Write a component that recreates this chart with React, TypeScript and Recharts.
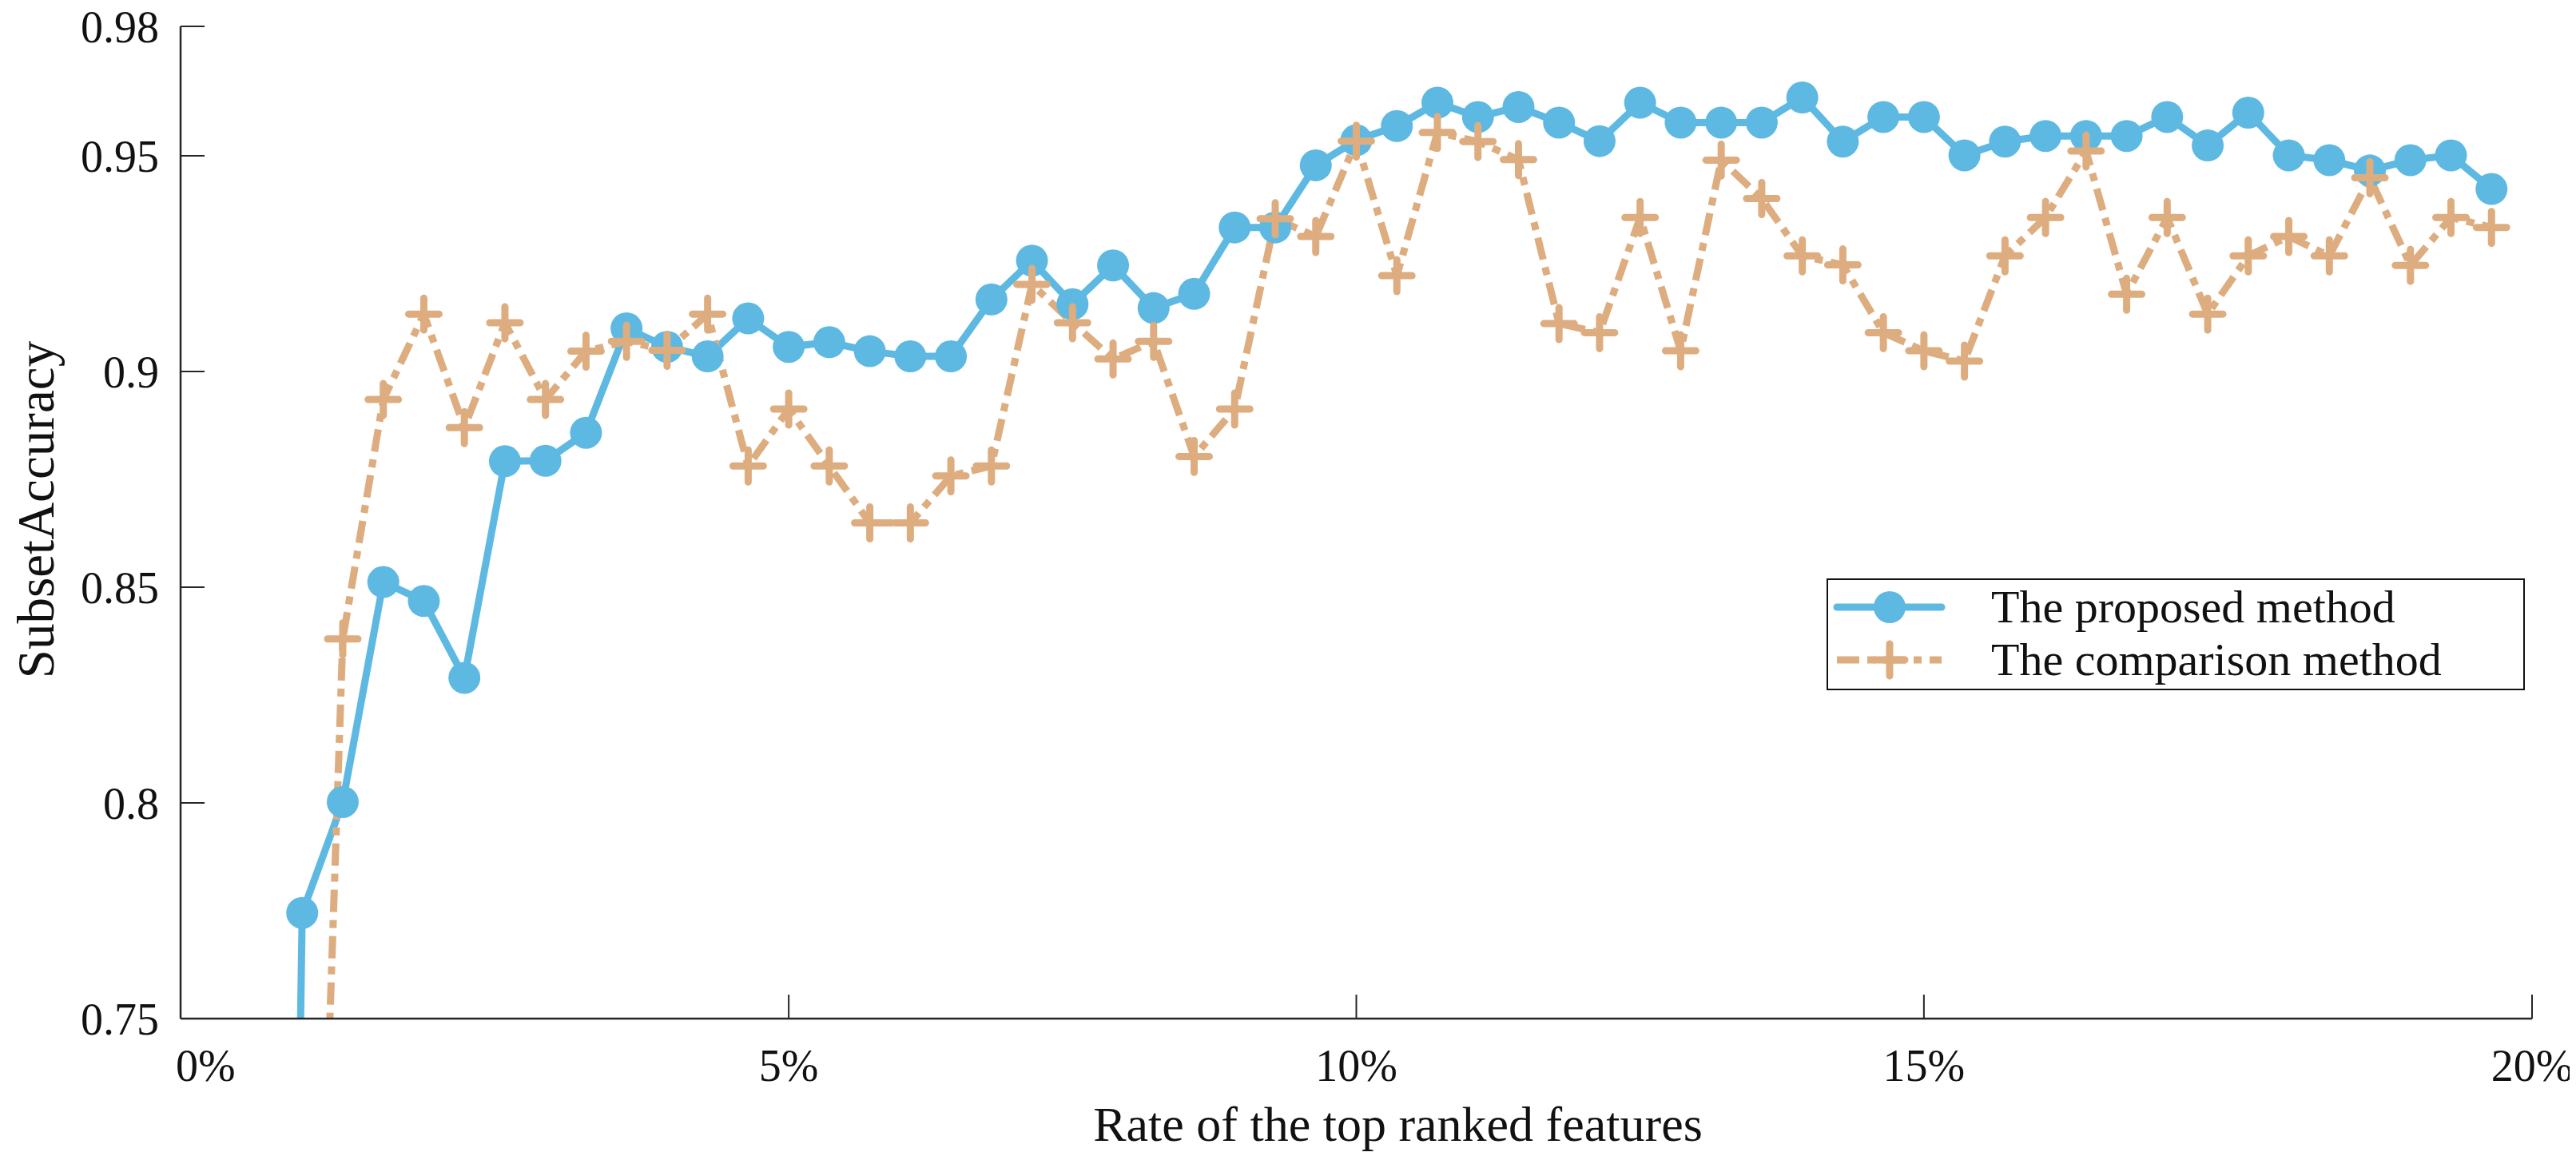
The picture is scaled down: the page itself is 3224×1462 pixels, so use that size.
import React from "react";
import { LineChart, Line, XAxis, YAxis, Legend, Label } from "recharts";

// x is the index of the feature subset; the ticks are labelled as rates
const featureIndex = [
  2, 3, 4, 5, 6, 7, 8, 9, 10, 11, 12, 13, 14, 15, 16, 17, 18, 19, 20, 21, 22, 23, 24, 25, 26, 27, 28, 29,
  30, 31, 32, 33, 34, 35, 36, 37, 38, 39, 40, 41, 42, 43, 44, 45, 46, 47, 48, 49, 50, 51, 52, 53, 54, 55, 56, 57,
];

const proposedAcc = [
  0.15, 0.7745, 0.8002, 0.8512, 0.8468, 0.829, 0.8792, 0.8793, 0.8858, 0.91, 0.9057, 0.9035, 0.9123, 0.9057,
  0.9068, 0.9047, 0.9035, 0.9035, 0.9167, 0.9257, 0.9156, 0.9246, 0.9147, 0.918, 0.9334, 0.9334, 0.9478, 0.9536,
  0.9569, 0.9623, 0.959, 0.9613, 0.9577, 0.9534, 0.9623, 0.9577, 0.9577, 0.9577, 0.9635, 0.9533, 0.959, 0.959,
  0.9501, 0.9533, 0.9546, 0.9546, 0.9546, 0.959, 0.9524, 0.96, 0.9501, 0.949, 0.9466, 0.949, 0.9501, 0.9423,
];

const comparisonAcc = [
  null, 0.56, 0.838, 0.8935, 0.9133, 0.887, 0.9113, 0.8935, 0.9047, 0.907, 0.9049, 0.9133, 0.8781, 0.8913,
  0.8781, 0.8649, 0.8649, 0.8758, 0.8781, 0.9202, 0.9113, 0.9029, 0.907, 0.8803, 0.8913, 0.9354, 0.9313, 0.9534,
  0.9222, 0.9554, 0.9533, 0.9491, 0.9111, 0.909, 0.9357, 0.9048, 0.949, 0.9401, 0.9268, 0.9247, 0.909, 0.9048,
  0.9024, 0.9268, 0.9357, 0.9511, 0.9179, 0.9357, 0.9133, 0.9268, 0.9313, 0.9268, 0.9449, 0.9246, 0.9357, 0.9334,
];

const xTickPositions = [0, 15, 29, 43, 58];
const xTickLabels = ["0%", "5%", "10%", "15%", "20%"];
const yTicks = [0.75, 0.8, 0.85, 0.9, 0.95, 0.98];
const seriesNames = ["The proposed method", "The comparison method"];

const BLUE = "#5db9e2";
const ORANGE = "#ddad80";
const AXIS = "#262626";
const TEXT = "#111111";
const FONT = "'Liberation Serif', 'DejaVu Serif', serif";
const DASH = "28 10 10 10";
const Y_MIN = 0.75;

const data = featureIndex.map((idx, i) => ({
  idx,
  proposed: proposedAcc[i],
  comparison: comparisonAcc[i],
}));

const CircleDot = (props: any) => {
  const { cx, cy, value } = props;
  if (value == null || value < Y_MIN || cx == null || cy == null) return <g />;
  return <circle cx={cx} cy={cy} r={20} fill={BLUE} />;
};

const PlusDot = (props: any) => {
  const { cx, cy, value } = props;
  if (value == null || value < Y_MIN || cx == null || cy == null) return <g />;
  return (
    <path
      d={`M${cx - 19},${cy}H${cx + 19}M${cx},${cy - 20}V${cy + 20}`}
      stroke={ORANGE}
      strokeWidth={9}
      strokeLinecap="round"
      fill="none"
    />
  );
};

const XTick = (props: any) => {
  const { x, y, payload } = props;
  const i = xTickPositions.indexOf(payload.value);
  const first = i === 0;
  return (
    <text
      x={first ? x - 6 : x}
      y={y + 78}
      textAnchor={first ? "start" : "middle"}
      fontFamily={FONT}
      fontSize={56}
      fill={TEXT}
    >
      {xTickLabels[i]}
    </text>
  );
};

const LegendBox = () => (
  <div
    style={{
      width: 874,
      height: 140,
      boxSizing: "border-box",
      border: `2.5px solid ${TEXT}`,
      background: "#fff",
      paddingTop: 1,
      fontFamily: FONT,
      fontSize: 58,
      color: TEXT,
    }}
  >
    {seriesNames.map((name, i) => (
      <div key={name} style={{ display: "flex", alignItems: "center", height: 66 }}>
        <svg width={204} height={66} style={{ flex: "none" }}>
          <line
            x1={11}
            x2={142}
            y1={33}
            y2={33}
            stroke={i === 0 ? BLUE : ORANGE}
            strokeWidth={9}
            strokeDasharray={i === 0 ? undefined : DASH}
            strokeLinecap={i === 0 ? "round" : "butt"}
          />
          {i === 0 ? (
            <circle cx={77} cy={33} r={20} fill={BLUE} />
          ) : (
            <path d="M58,33H96M77,13V53" stroke={ORANGE} strokeWidth={9} strokeLinecap="round" />
          )}
        </svg>
        <span style={{ whiteSpace: "nowrap", lineHeight: "66px" }}>{name}</span>
      </div>
    ))}
  </div>
);

export default function App() {
  return (
    <div style={{ marginTop: -8, marginLeft: -8 }}>
      <LineChart width={3224} height={1462} data={data} margin={{ top: 33, right: 55, bottom: 0, left: 0 }}>
        <XAxis
          dataKey="idx"
          type="number"
          domain={[0, 58]}
          ticks={xTickPositions}
          interval={0}
          height={187}
          axisLine={{ stroke: AXIS, strokeWidth: 2.5 }}
          tickLine={{ stroke: AXIS, strokeWidth: 2 }}
          tickSize={-30}
          tickMargin={30}
          tick={<XTick />}
        >
          <Label
            value="Rate of the top ranked features"
            position="insideBottom"
            offset={34}
            dx={52}
            fontFamily={FONT}
            fontSize={62}
            fill={TEXT}
          />
        </XAxis>
        <YAxis
          type="number"
          domain={[Y_MIN, 0.98]}
          ticks={yTicks}
          interval={0}
          allowDataOverflow
          width={226}
          axisLine={{ stroke: AXIS, strokeWidth: 2.5 }}
          tickLine={{ stroke: AXIS, strokeWidth: 2 }}
          tickSize={-30}
          tickMargin={57}
          tick={{ fontFamily: FONT, fontSize: 56, fill: TEXT }}
        >
          <Label
            content={(p: any) => {
              const vb = p.viewBox || { x: 0, y: 33, width: 226, height: 1242 };
              const cx = vb.x + 45;
              const cy = vb.y + vb.height / 2 - 16;
              return (
                <text
                  x={cx}
                  y={cy}
                  transform={`rotate(-90, ${cx}, ${cy})`}
                  textAnchor="middle"
                  dominantBaseline="central"
                  fontFamily={FONT}
                  fontSize={65}
                  fill={TEXT}
                >
                  SubsetAccuracy
                </text>
              );
            }}
          />
        </YAxis>
        <Line
          type="linear"
          dataKey="proposed"
          name={seriesNames[0]}
          stroke={BLUE}
          strokeWidth={9}
          strokeLinejoin="round"
          dot={<CircleDot />}
          activeDot={false}
          isAnimationActive={false}
        />
        <Line
          type="linear"
          dataKey="comparison"
          name={seriesNames[1]}
          stroke={ORANGE}
          strokeWidth={9}
          strokeDasharray={DASH}
          dot={<PlusDot />}
          activeDot={false}
          isAnimationActive={false}
        />
        <Legend
          layout="horizontal"
          verticalAlign="middle"
          align="center"
          content={<LegendBox />}
          wrapperStyle={{ left: 2286, top: 724, width: 874, height: 140 }}
        />
      </LineChart>
    </div>
  );
}
